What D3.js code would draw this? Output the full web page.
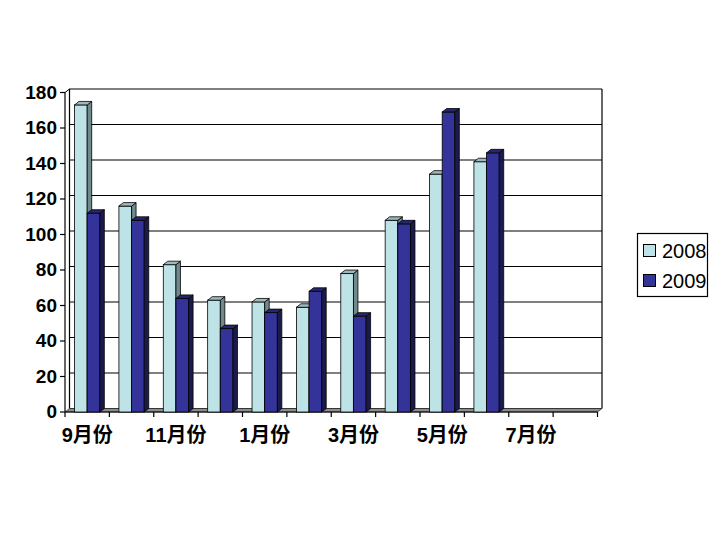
<!DOCTYPE html>
<html><head><meta charset="utf-8">
<script src="https://cdn.jsdelivr.net/npm/d3@7"></script>
<style>body{margin:0;background:#fff}svg{display:block}</style>
</head><body>
<svg id="c" width="720" height="540"></svg>
<script>
const categories = ["9月份","10月份","11月份","12月份","1月份","2月份","3月份","4月份","5月份","6月份","7月份","8月份"];
const series2008 = [173,116,83,63,62,59,78,108,134,141,0,0];
const series2009 = [112,108,64,47,56,68,54,106,169,146,0,0];
const seriesNames = ["2008","2009"];
const yTicks = [0,20,40,60,80,100,120,140,160,180];
const shownLabels = ["9月份","11月份","1月份","3月份","5月份","7月份"];

const colors = [
  {front:"#BEE3E6", side:"#6E8A8C", top:"#9DB9BB"},
  {front:"#333399", side:"#1A1A4D", top:"#26266E"}
];
const svg = d3.select("#c");
const dx = 4.5, dy = 3.5;
const frontLeft = 65, frontRight = 597.5;
const y = d3.scaleLinear().domain([0,180]).range([408.5, 89]);
const x0 = d3.scaleBand().domain(categories).range([frontLeft, frontRight]).padding(0);
const bw = x0.bandwidth();
const x1 = d3.scaleBand().domain(seriesNames).range([0.215*bw, 0.785*bw]).padding(0);

// back wall gridlines
const g = svg.append("g");
g.selectAll("line.grid").data(yTicks).join("line")
  .attr("x1", frontLeft+dx).attr("x2", frontRight+dx)
  .attr("y1", d=>y(d)).attr("y2", d=>y(d))
  .attr("stroke","#000").attr("stroke-width",1.2);
g.append("line").attr("x1",frontLeft+dx).attr("x2",frontLeft+dx).attr("y1",y(180)).attr("y2",y(0)).attr("stroke","#000").attr("stroke-width",1.2);
g.append("line").attr("x1",frontRight+dx).attr("x2",frontRight+dx).attr("y1",y(180)).attr("y2",y(0)).attr("stroke","#000").attr("stroke-width",1.2);
g.append("line").attr("x1",frontLeft).attr("x2",frontLeft).attr("y1",y(180)+dy).attr("y2",y(0)+dy).attr("stroke","#000").attr("stroke-width",1.2);
g.append("line").attr("x1",frontLeft).attr("x2",frontLeft+dx).attr("y1",y(180)+dy).attr("y2",y(180)).attr("stroke","#000").attr("stroke-width",1);
// floor
g.append("polygon")
  .attr("points",[[frontLeft,y(0)+dy],[frontLeft+dx,y(0)],[frontRight+dx,y(0)],[frontRight,y(0)+dy]].map(p=>p.join(",")).join(" "))
  .attr("fill","#8C8C8C").attr("stroke","#333").attr("stroke-width",0.8);

// y axis ticks & labels
svg.selectAll("line.yt").data(yTicks).join("line")
  .attr("x1",frontLeft-5).attr("x2",frontLeft)
  .attr("y1",d=>y(d)+dy).attr("y2",d=>y(d)+dy)
  .attr("stroke","#000").attr("stroke-width",1.2);
svg.selectAll("text.yl").data(yTicks).join("text")
  .attr("x",frontLeft-8).attr("y",d=>y(d)+dy+6)
  .attr("text-anchor","end")
  .attr("font-family","'Liberation Sans', Arial, sans-serif")
  .attr("font-weight","bold").attr("font-size",19)
  .text(d=>d);

// x axis ticks
const bounds = categories.map(c=>x0(c)).concat([frontRight]);
svg.selectAll("line.xt").data(bounds).join("line")
  .attr("x1",d=>d).attr("x2",d=>d)
  .attr("y1",y(0)+dy).attr("y2",y(0)+dy+5)
  .attr("stroke","#000").attr("stroke-width",1.2);
svg.append("line").attr("x1",frontLeft).attr("x2",frontRight).attr("y1",y(0)+dy).attr("y2",y(0)+dy).attr("stroke","#000").attr("stroke-width",1);
svg.selectAll("text.xl").data(categories.filter(c=>shownLabels.includes(c))).join("text")
  .attr("x",d=>x0(d)+bw/2).attr("y",442)
  .attr("text-anchor","middle")
  .attr("font-family","'Liberation Sans', 'Noto Sans CJK SC', Arial, sans-serif")
  .attr("font-weight","bold").attr("font-size",20)
  .text(d=>d);

// bars
const data = [series2008, series2009];
const bars = svg.append("g");
categories.forEach((c,i)=>{
  seriesNames.forEach((s,j)=>{
    const v = data[j][i];
    const xl = x0(c)+x1(s), xr = xl + x1.bandwidth();
    const topF = y(v)+dy, botF = y(0)+dy;
    const col = colors[j];
    if (v<=0) return;
    bars.append("rect").attr("x",xl).attr("y",topF).attr("width",xr-xl).attr("height",botF-topF)
      .attr("fill",col.front).attr("stroke","#000").attr("stroke-width",0.8);
    bars.append("polygon").attr("points",[[xr,topF],[xr+dx,topF-dy],[xr+dx,botF-dy],[xr,botF]].map(p=>p.join(",")).join(" "))
      .attr("fill",col.side).attr("stroke","#000").attr("stroke-width",0.8);
    bars.append("polygon").attr("points",[[xl,topF],[xl+dx,topF-dy],[xr+dx,topF-dy],[xr,topF]].map(p=>p.join(",")).join(" "))
      .attr("fill",col.top).attr("stroke","#000").attr("stroke-width",0.8);
  });
});

// legend
const lg = svg.append("g");
lg.append("rect").attr("x",637.5).attr("y",233.5).attr("width",70).attr("height",63)
  .attr("fill","#fff").attr("stroke","#000").attr("stroke-width",1.2);
seriesNames.forEach((s,j)=>{
  lg.append("rect").attr("x",643.5).attr("y",244.5+j*30).attr("width",12).attr("height",12)
    .attr("fill",colors[j].front).attr("stroke","#000").attr("stroke-width",1);
  lg.append("text").attr("x",662).attr("y",258+j*30)
    .attr("font-family","'Liberation Sans', Arial, sans-serif").attr("font-size",20)
    .text(s);
});
</script>
</body></html>
